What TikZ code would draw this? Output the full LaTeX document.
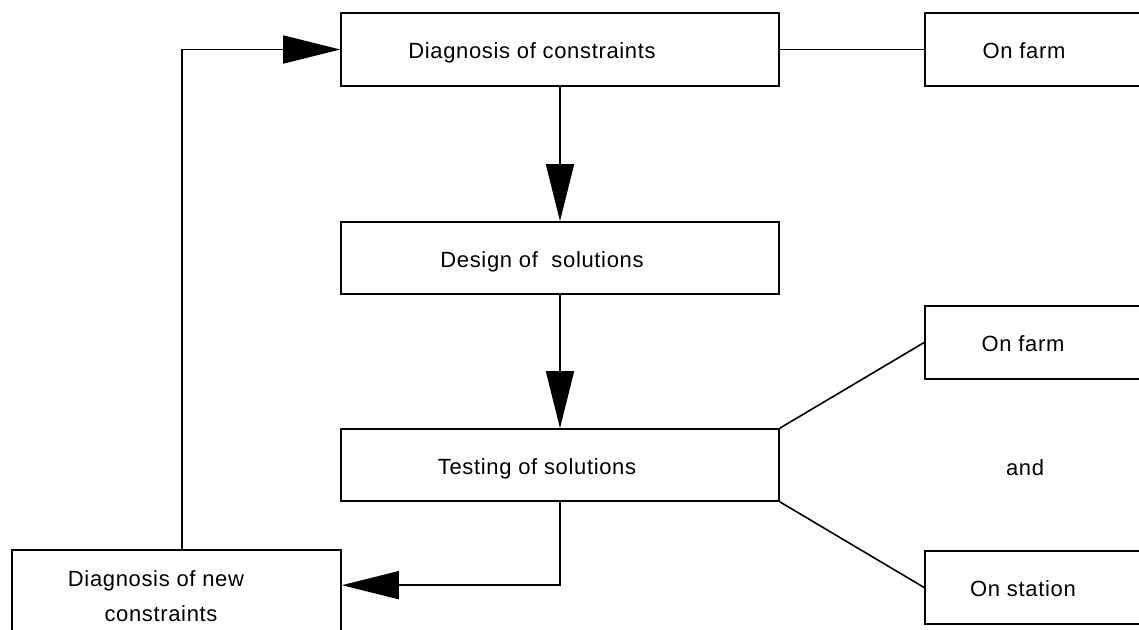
\documentclass[tikz,border=0pt]{standalone}
\usepackage{fontspec}
\setmainfont{Liberation Sans}[LetterSpace=3]
\usetikzlibrary{arrows.meta,calc}

\tikzset{
  box/.style={draw, line width=1.7pt, rectangle, inner sep=0pt},
  lbl/.style={inner sep=0pt, anchor=base, font=\fontsize{22}{26}\selectfont},
  link/.style={line width=1.6pt},
  flow/.style={line width=1.6pt, -{Triangle[length=57pt,width=28pt]}},
}

\begin{document}
\begin{tikzpicture}[x=1pt,y=-1pt]
  \useasboundingbox (0,0) rectangle (1139,629);
  \clip (0,0) rectangle (1139,629);

  % central column
  \node[box, minimum width=438pt, minimum height=73pt] (dc) at (560,49.5) {};
  \node[box, minimum width=438pt, minimum height=72pt] (ds) at (560,258) {};
  \node[box, minimum width=438pt, minimum height=72pt] (ts) at (560,465) {};

  % side boxes, running off the right edge
  \node[box, minimum width=225pt, minimum height=73pt] (of1) at (1037.5,49.5) {};
  \node[box, minimum width=225pt, minimum height=73pt] (of2) at (1037.5,342.5) {};
  \node[box, minimum width=225pt, minimum height=73pt] (os) at (1037.5,587.5) {};

  % feedback box, running off the bottom edge
  \node[box, minimum width=329pt, minimum height=90pt] (dn) at (176.5,595) {};

  % texts
  \node[lbl] (dcT) at (532,58.5) {Diagnosis of constraints};
  \node[lbl] (dsT) at (542,267) {Design of\ \ solutions};
  \node[lbl] (tsT) at (537,474.5) {Testing of solutions};
  \node[lbl] (of1T) at (1024,58.5) {On farm};
  \node[lbl] (of2T) at (1023,351.5) {On farm};
  \node[lbl] (andT) at (1025,475.5) {and};
  \node[lbl] (osT) at (1023,596.5) {On station};
  \node[lbl] (dnT1) at (156,586.5) {Diagnosis of new};
  \node[lbl] (dnT2) at (161,621.5) {constraints};

  % connectors
  \draw[link] (dc.east) -- (of1.west);
  \draw[link] (ts.north east) -- (of2.west);
  \draw[link] (ts.south east) -- (os.west);

  \draw[flow] (dc.south) -- (ds.north);
  \draw[flow] (ds.south) -- (ts.north);

  \coordinate (dnIn) at ($(dn.north east)+(0,36)$);
  \draw[flow] (ts.south) |- (dnIn);

  \coordinate (dnOut) at ($(dn.north)+(5.5,0)$);
  \draw[flow] (dnOut) |- (dc.west);
\end{tikzpicture}
\end{document}
